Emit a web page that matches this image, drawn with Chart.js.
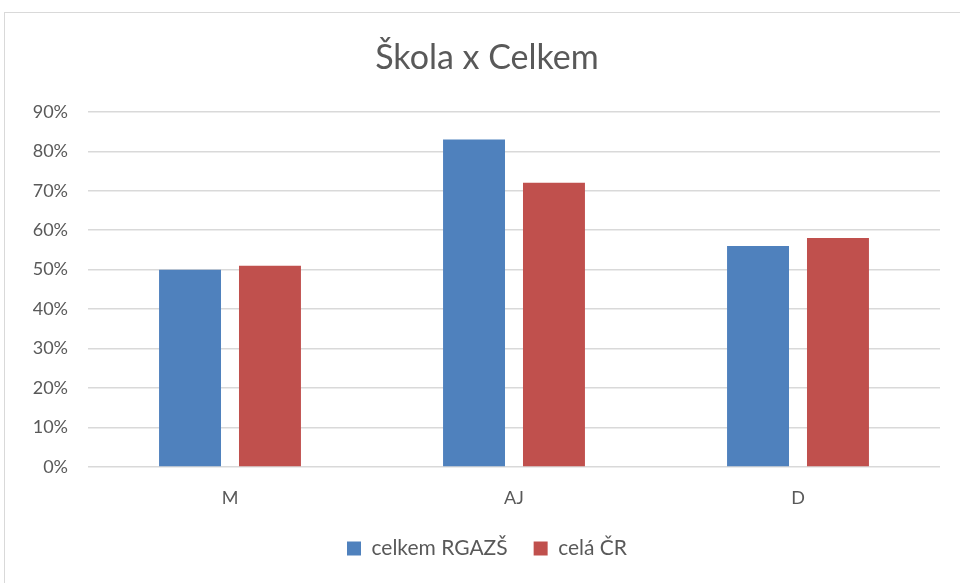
<!DOCTYPE html>
<html>
<head>
<meta charset="utf-8">
<script src="https://cdn.jsdelivr.net/npm/chart.js@4.4.0/dist/chart.umd.min.js"></script>
<style>
  html, body { margin: 0; background: #fff; overflow: hidden; }
  #frame { position: absolute; left: 4px; top: 12px; width: 1000px; height: 620px; border: 1px solid #d9d9d9; }
  #wrap { position: absolute; left: 0; top: 0; width: 974px; height: 583px; }
</style>
</head>
<body>
<div id="frame"></div>
<div id="wrap"><canvas id="myChart" width="974" height="583"></canvas></div>
<script>
const kategorie = ["M", "AJ", "D"]
const celkemRGAZS = [50, 83, 56]
const celaCR = [51, 72, 58]
const osaY = [0, 10, 20, 30, 40, 50, 60, 70, 80, 90]

const textColor = "#595959"
const fontFamily = "Lato, 'Open Sans', sans-serif"

const config = {
    type: "bar",
    data: {
        labels: kategorie,
        datasets: [
            {
                label: "celkem RGAZŠ",
                backgroundColor: "#4f81bd",
                data: celkemRGAZS,
                categoryPercentage: 0.563,
                barPercentage: 0.775
            },
            {
                label: "celá ČR",
                backgroundColor: "#c0504d",
                data: celaCR,
                categoryPercentage: 0.563,
                barPercentage: 0.775
            }
        ]
    },
    options: {
        responsive: false,
        animation: false,
        layout: { padding: { left: 0, right: 0, top: 0, bottom: 14 } },
        plugins: {
            title: {
                display: true,
                text: "Škola x Celkem",
                color: textColor,
                font: { family: fontFamily, size: 34, weight: "normal" },
                padding: { top: 38, bottom: 33 }
            },
            legend: {
                position: "bottom",
                labels: {
                    color: textColor,
                    font: { family: fontFamily, size: 21 },
                    boxWidth: 14,
                    boxHeight: 14,
                    padding: 26
                }
            },
            tooltip: { enabled: false }
        },
        scales: {
            x: {
                grid: { display: false },
                border: { display: false },
                ticks: { color: textColor, font: { family: fontFamily, size: 18 }, padding: 12 },
                afterFit: (scale) => { scale.height = 45 }
            },
            y: {
                min: 0,
                max: 90,
                afterBuildTicks: (scale) => { scale.ticks = osaY.map((v) => ({ value: v })) },
                grid: { color: "#d9d9d9", lineWidth: 1.5, drawTicks: false },
                border: { display: false },
                ticks: {
                    color: textColor,
                    font: { family: fontFamily, size: 18 },
                    padding: 20,
                    callback: (v) => v + "%"
                },
                afterFit: (scale) => { scale.width = 88 }
            },
            // prazdna osa vpravo jen kvuli okraji
            yRight: {
                position: "right",
                min: 0,
                max: 90,
                grid: { display: false },
                border: { display: false },
                ticks: { display: false },
                afterFit: (scale) => { scale.width = 34 }
            }
        }
    }
}

new Chart(document.getElementById("myChart"), config)
</script>
</body>
</html>
